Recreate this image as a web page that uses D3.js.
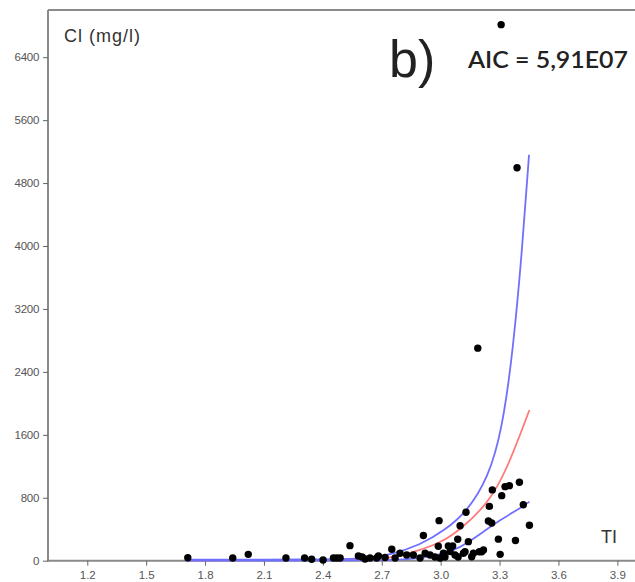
<!DOCTYPE html>
<html><head><meta charset="utf-8">
<script src="https://cdn.jsdelivr.net/npm/d3@7"></script>
<style>body{margin:0;background:#fff}svg{display:block}</style>
</head><body>
<svg id="c" width="635" height="582"></svg>
<script>
const xTicks = [1.2, 1.5, 1.8, 2.1, 2.4, 2.7, 3.0, 3.3, 3.6, 3.9];
const yTicks = [0, 800, 1600, 2400, 3200, 4000, 4800, 5600, 6400];
const ptTI = [1.712,1.941,2.020,2.212,2.307,2.343,2.401,2.454,2.471,2.488,2.538,2.581,2.600,2.615,2.640,2.674,2.683,2.717,2.751,2.768,2.793,2.827,2.861,2.895,2.912,2.921,2.946,2.971,2.988,2.992,2.997,3.014,3.022,3.039,3.048,3.061,3.073,3.087,3.089,3.099,3.116,3.124,3.129,3.141,3.158,3.167,3.189,3.197,3.209,3.218,3.243,3.248,3.260,3.263,3.294,3.303,3.308,3.311,3.328,3.350,3.381,3.389,3.401,3.421,3.452];
const ptCl = [38,34,81,34,34,18,9,34,34,34,191,60,47,22,34,34,60,41,145,34,94,72,72,34,320,94,72,47,183,509,34,94,47,187,117,187,72,272,47,445,94,114,616,242,51,94,2702,114,114,136,505,690,480,900,274,81,6814,827,941,954,257,4995,997,712,450];
const upTI = [1.70, 2.40, 2.589, 2.742, 2.895, 3.022, 3.133, 3.242, 3.313, 3.369, 3.415, 3.45];
const upCl = [12, 14, 22, 72, 198, 390, 620, 1050, 1663, 2680, 3952, 5160];
const midTI = [1.70, 2.50, 2.717, 2.844, 2.997, 3.099, 3.243, 3.337, 3.452];
const midCl = [5, 8, 18, 94, 221, 390, 730, 1154, 1915];
const loTI = [1.70, 2.60, 2.79, 2.946, 3.073, 3.133, 3.218, 3.303, 3.40, 3.452];
const loCl = [2, 3, 8, 40, 136, 221, 369, 518, 660, 750];

const svg = d3.select("#c");
const x = d3.scaleLinear().domain([1.0, 4.0]).range([48, 637]);
const y = d3.scaleLinear().domain([0, 7000]).range([560.7, 10]);
const axisCol = "#8a8a8a";
const ff = "Liberation Sans, Arial, sans-serif";

// frame
svg.append("line").attr("x1",48).attr("x2",635).attr("y1",10).attr("y2",10).attr("stroke",axisCol).attr("stroke-width",2);

const gx = svg.append("g").attr("transform","translate(0,560.7)")
  .call(d3.axisBottom(x).tickValues(xTicks).tickFormat(d3.format(".1f")).tickSize(5).tickSizeOuter(0));
const gy = svg.append("g").attr("transform","translate(48,0)")
  .call(d3.axisLeft(y).tickValues(yTicks).tickFormat(d=>d).tickSize(5).tickSizeOuter(0));
[gx, gy].forEach(g=>{
  g.select(".domain").attr("stroke",axisCol).attr("stroke-width",2);
  g.selectAll(".tick line").attr("stroke","#666").attr("stroke-width",1);
  g.selectAll(".tick text").attr("fill","#555").attr("font-family",ff).attr("font-size",11.5);
});
gx.select(".domain").attr("d","M48,0H635");
gy.select(".domain").attr("d","M0,10V561.7");
gx.selectAll(".tick text").attr("y",18.5).attr("dy",0);
gy.selectAll(".tick text").attr("x",-9).attr("letter-spacing",-0.3);

// curves
const line = d3.line().x(d=>x(d[0])).y(d=>y(d[1])).curve(d3.curveBasis);
function drawCurve(ti, cl, col){
  svg.append("path").datum(ti.map((t,i)=>[t,cl[i]])).attr("d",line)
    .attr("fill","none").attr("stroke",col).attr("stroke-width",1.8);
}
drawCurve(midTI, midCl, "#ff7a7a");
drawCurve(loTI, loCl, "#7070ff");
drawCurve(upTI, upCl, "#7070ff");

// points
svg.append("g").selectAll("circle").data(ptTI.map((t,i)=>[t,ptCl[i]])).join("circle")
  .attr("cx",d=>x(d[0])).attr("cy",d=>y(d[1])).attr("r",3.7).attr("fill","#000");

// texts
svg.append("text").attr("x",64).attr("y",42).attr("font-family",ff).attr("font-size",18).attr("letter-spacing",1.0).attr("fill","#333").text("Cl (mg/l)");
svg.append("text").attr("x",601).attr("y",543).attr("font-family",ff).attr("font-size",18).attr("fill","#333").text("TI");
svg.append("text").attr("x",389).attr("y",77).attr("font-family",ff).attr("font-size",52).attr("fill","#222").text("b)");
svg.append("text").attr("x",468).attr("y",68).attr("font-family","Lato, "+ff).attr("font-size",22).attr("font-weight",600)
  .attr("fill","#222").attr("textLength",160).attr("lengthAdjust","spacingAndGlyphs").text("AIC = 5,91E07");
</script>
</body></html>
